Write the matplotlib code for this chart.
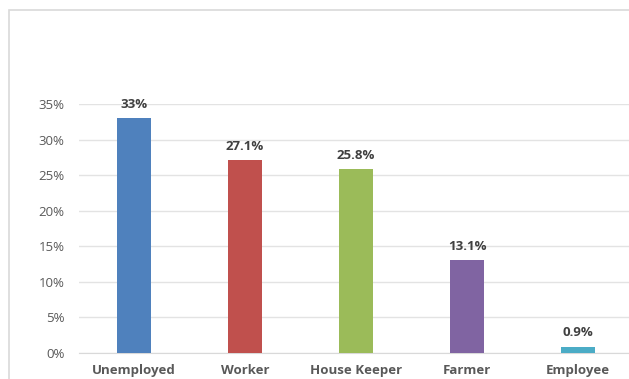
import matplotlib
matplotlib.use('Agg')
import matplotlib.pyplot as plt
from matplotlib.patches import Rectangle
import numpy as np

categories=['Unemployed','Worker','House Keeper','Farmer','Employee']
values=[33,27.1,25.8,13.1,0.9]
labels=['33%','27.1%','25.8%','13.1%','0.9%']
colors=['#4F81BD','#C0504D','#9BBB59','#8064A2','#4BACC6']
yticks=[0,5,10,15,20,25,30,35]

plt.rcParams['font.family']=['Open Sans','DejaVu Sans']
W,H=629,379
fig=plt.figure(figsize=(W/100,H/100),dpi=100)
fig.patch.set_facecolor('white')

# outer chart frame (cropped on right and bottom)
fig.add_artist(Rectangle((8.5/W,-0.2),1.2,1.2-9.5/H,transform=fig.transFigure,
                         facecolor='none',edgecolor='#d9d9d9',lw=1.2))

ax=fig.add_axes([78.5/W,26/H,555/W,249/H])
x=np.arange(len(categories))
ax.bar(x,values,width=0.31,color=colors,zorder=3)
for xi,v,l in zip(x,values,labels):
    ax.text(xi,v+1.0,l,ha='center',va='bottom',fontsize=9.5,fontweight='bold',color='#404040')

ax.set_xlim(-0.5,4.5)
ax.set_ylim(0,35)
ax.set_yticks(yticks)
ax.set_yticklabels([f'{t}%' for t in yticks],fontsize=9.5,color='#595959')
ax.set_xticks(x)
ax.set_xticklabels(categories,fontsize=9.5,fontweight='bold',color='#595959')
ax.tick_params(axis='both',length=0)
ax.tick_params(axis='y',pad=10)
ax.tick_params(axis='x',pad=8)
ax.grid(axis='y',color='#e3e3e3',lw=1,zorder=0)
for s in ['top','right','left']:
    ax.spines[s].set_visible(False)
ax.spines['bottom'].set_color('#d9d9d9')
ax.set_facecolor('none')

fig.savefig('out.png',dpi=100)
